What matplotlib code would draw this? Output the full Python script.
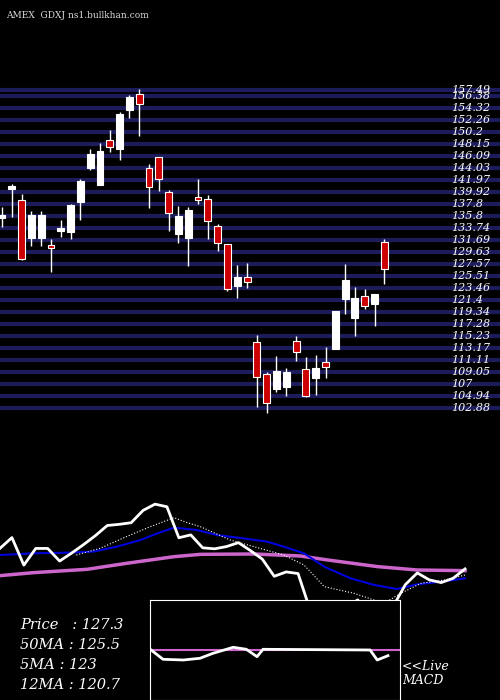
import numpy as np
import matplotlib
matplotlib.use('Agg')
import matplotlib.pyplot as plt

# price levels shown on the right
levels = [157.49, 156.38, 154.32, 152.26, 150.2, 148.15, 146.09, 144.03, 141.97,
          139.92, 137.8, 135.8, 133.74, 131.69, 129.63, 127.57, 125.51, 123.46,
          121.4, 119.34, 117.28, 115.23, 113.17, 111.11, 109.05, 107, 104.94, 102.88]

opens = [135.5, 140.4, 138.53, 132.06, 132.06, 130.8, 133.2, 133.09, 138.24, 144.08,
         141.1, 148.83, 147.28, 153.98, 156.67, 143.96, 145.85, 139.84, 132.69, 132.06,
         139.0, 138.7, 134.06, 130.9, 123.82, 125.25, 114.2, 108.6, 106.02, 106.36,
         114.37, 109.46, 108.02, 110.77, 112.89, 121.53, 118.32, 122.1, 120.61, 131.26]
closes = [136.0, 140.9, 128.34, 135.95, 135.95, 130.2, 133.8, 137.67, 141.79, 146.42,
          146.94, 147.68, 153.29, 156.15, 154.95, 140.82, 142.13, 136.24, 135.78, 136.81,
          138.6, 134.98, 131.09, 123.25, 125.25, 124.5, 108.08, 103.73, 109.17, 108.94,
          112.49, 104.93, 109.63, 109.8, 119.47, 124.79, 121.64, 120.38, 122.33, 126.62]
highs = [137.38, 141.27, 139.5, 136.64, 136.64, 131.8, 135.1, 137.84, 142.07, 147.23,
         148.37, 150.55, 153.69, 156.55, 157.53, 144.7, 145.9, 140.24, 137.5, 137.27,
         142.13, 139.39, 134.41, 130.9, 127.37, 127.77, 115.35, 108.94, 111.74, 109.63,
         115.18, 111.52, 111.92, 113.35, 119.47, 127.54, 123.53, 123.19, 122.33, 131.83]
lows = [133.95, 135.55, 128.2, 130.69, 130.69, 126.2, 132.1, 131.83, 135.09, 143.68,
        141.1, 146.83, 145.4, 152.66, 149.57, 137.21, 140.07, 133.26, 131.09, 127.25,
        137.84, 131.83, 129.77, 122.96, 121.76, 123.48, 103.04, 101.9, 105.62, 104.88,
        110.94, 104.76, 105.05, 108.02, 112.89, 118.95, 115.18, 119.76, 116.9, 124.11]

ma12_idx = [0, 2.8, 5.6, 7.8, 9.8, 11.8, 13.2, 14.6, 16.5, 18.2, 20.4, 22.4, 23.8,
            25.5, 27.2, 29.4, 31.4, 33.3, 35, 37, 39]
ma12_val = [132.96, 133.72, 134.02, 134.48, 136.76, 139.8, 142.84, 145.42, 144.36,
            142.08, 140.56, 139.04, 136.76, 133.72, 127.64, 122.32, 119.28, 117.46,
            119.59, 120.8, 122.32]
ma50_idx = [0, 2.8, 7.3, 10.6, 14.6, 16.8, 21.3, 25.2, 27.5, 31.7, 35, 39]
ma50_val = [123.54, 124.91, 126.43, 129.16, 132.2, 133.26, 133.42, 132.5, 130.68,
            127.64, 126.12, 125.82]
ma5_idx = [6.4, 8.4, 10.6, 12.6, 14.6, 15.7, 16.8, 19.3, 21.8, 23.8, 25.5, 27.2,
           29.7, 32.2, 33.6, 35.3, 37.3, 39]
ma5_val = [132.96, 136, 141.32, 145.88, 149.98, 147.7, 145.88, 139.8, 136, 132.96,
           128.4, 118.52, 115.48, 110.92, 115.48, 120.04, 121.56, 123.84]

macd_idx = [12.7, 13.7, 15.4, 16.8, 17.9, 19.6, 20.7, 21.6, 22.1, 31.1, 31.7, 32.6]
macd_val = [0, -0.93, -1, -0.83, -0.33, 0.27, 0.07, -0.67, 0.07, 0, -1, -0.57]

W, H = 500, 700
fig = plt.figure(figsize=(5, 7), dpi=100, facecolor='black')
serif = dict(family='DejaVu Serif', style='italic', color='white')

# main candle panel
ax = fig.add_axes([0, 0.3, 1, 0.7])
ax.set_facecolor('black')
ax.set_xlim(-0.204, 50.8)
ax.set_ylim(156.38 - (490 - 96) / 5.825, 156.38 + 96 / 5.825)
ax.axis('off')
for lv in levels:
    ax.axhline(lv, color='#1c1c5c', lw=3, zorder=1)
    ax.text(45.8, lv, str(lv), fontsize=8, va='center', ha='left', zorder=3, **serif)

for i in range(len(opens)):
    o, c = opens[i], closes[i]
    col = 'white' if c >= o else '#cc0000'
    ax.vlines(i, lows[i], highs[i], color='white', lw=1, zorder=2)
    ax.bar(i, max(abs(c - o), 0.3), bottom=min(o, c), width=0.7, color=col,
           edgecolor='white', lw=0.8, zorder=2)

fig.text(0.012, 0.985, 'AMEX  GDXJ ns1.bullkhan.com', fontsize=6.5, va='top',
         family='DejaVu Serif', color='#dddddd')

# moving averages panel
ax2 = fig.add_axes([0, 0, 1, 0.3])
ax2.set_facecolor('black')
ax2.set_xlim(0, 39 * 500 / 465)
ax2.set_ylim(136 - (630 - 175) / 6.58, 136 + 175 / 6.58)
ax2.axis('off')
ax2.plot(ma50_idx, ma50_val, color='#cc66cc', lw=2.5)
ax2.plot(ma12_idx, ma12_val, color='#0000dd', lw=1.5)
ax2.plot(ma5_idx, ma5_val, color='white', lw=0.8, ls=':')
ax2.plot(range(len(closes)), closes, color='white', lw=2)

fig.text(0.04, 1 - 625 / H, 'Price   : 127.3', fontsize=10.5, va='center', **serif)
fig.text(0.04, 1 - 645 / H, '50MA : 125.5', fontsize=10.5, va='center', **serif)
fig.text(0.04, 1 - 665 / H, '5MA : 123', fontsize=10.5, va='center', **serif)
fig.text(0.04, 1 - 685 / H, '12MA : 120.7', fontsize=10.5, va='center', **serif)
fig.text(402 / W, 1 - 666 / H, '<<Live', fontsize=9, va='center', **serif)
fig.text(402 / W, 1 - 681 / H, 'MACD', fontsize=9, va='center', **serif)

# MACD box
ax3 = fig.add_axes([150 / W, 0, 250 / W, 100 / H])
ax3.set_facecolor('black')
for s in ax3.spines.values():
    s.set_color('white')
ax3.set_xticks([])
ax3.set_yticks([])
ax3.set_xlim(150 / 11.9, 400 / 11.9)
ax3.set_ylim(-5, 5)
ax3.axhline(0, color='#cc66cc', lw=1.5)
ax3.plot(macd_idx, macd_val, color='white', lw=2)

fig.savefig('out.png', dpi=100, facecolor='black')
